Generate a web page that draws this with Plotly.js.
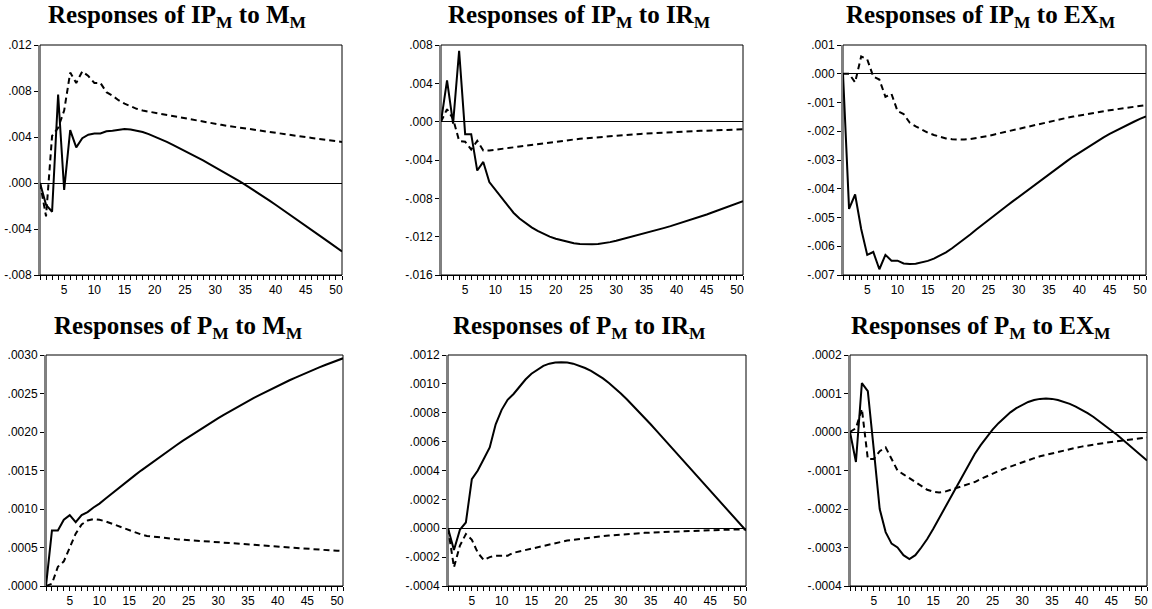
<!DOCTYPE html>
<html>
<head>
<meta charset="utf-8">
<script src="https://cdn.plot.ly/plotly-3.0.1.min.js"></script>
<style>html,body{margin:0;padding:0;background:#fff;}#chart{width:1152px;height:609px;}</style>
</head>
<body>
<div id="chart"></div>
<script>
// ---- data ----
const periods = [1,2,3,4,5,6,7,8,9,10,11,12,13,14,15,16,17,18,19,20,21,22,23,24,25,26,27,28,29,30,31,32,33,34,35,36,37,38,39,40,41,42,43,44,45,46,47,48,49,50,51];

const titles = [
  "Responses of IP<sub>M</sub> to M<sub>M</sub>",
  "Responses of IP<sub>M</sub> to IR<sub>M</sub>",
  "Responses of IP<sub>M</sub> to EX<sub>M</sub>",
  "Responses of P<sub>M</sub> to M<sub>M</sub>",
  "Responses of P<sub>M</sub> to IR<sub>M</sub>",
  "Responses of P<sub>M</sub> to EX<sub>M</sub>"
];

const ipM_M_solid = [0,-0.0019,-0.0025,0.0077,-0.0006,0.0046,0.0031,0.0039,0.0042,0.0043,0.0043,0.0045,0.00455,0.00465,0.00470,0.00466,0.00457,0.00443,0.00425,0.00404,0.00381,0.00357,0.00332,0.00306,0.00279,0.00252,0.00224,0.00196,0.00167,0.00138,0.00108,0.00078,0.00047,0.00016,-0.00016,-0.00049,-0.00083,-0.00118,-0.00153,-0.00189,-0.00225,-0.00262,-0.00299,-0.00336,-0.00373,-0.00410,-0.00447,-0.00484,-0.00521,-0.00558,-0.00595];
const ipM_M_dash = [0,-0.0029,0.0041,0.0048,0.0063,0.0096,0.0087,0.0097,0.0093,0.0087,0.0087,0.0079,0.0076,0.0072,0.0069,0.00665,0.00645,0.0063,0.0062,0.0061,0.00600,0.00590,0.00580,0.00570,0.00560,0.00551,0.00542,0.00533,0.00524,0.00515,0.00506,0.00497,0.00489,0.00481,0.00473,0.00465,0.00457,0.00449,0.00441,0.00434,0.00427,0.00420,0.00413,0.00406,0.00399,0.00392,0.00385,0.00378,0.00371,0.00364,0.00357];

const ipM_IR_solid = [0,0.0043,-0.0002,0.0074,-0.0013,-0.0013,-0.0051,-0.0042,-0.0063,-0.0071,-0.0080,-0.0088,-0.0095,-0.01010,-0.01060,-0.01103,-0.01140,-0.01172,-0.01199,-0.01222,-0.01240,-0.01256,-0.01268,-0.01276,-0.01280,-0.01280,-0.01276,-0.01268,-0.01257,-0.01243,-0.01227,-0.01211,-0.01195,-0.01178,-0.01161,-0.01144,-0.01126,-0.01108,-0.01090,-0.01071,-0.01051,-0.01031,-0.01010,-0.00989,-0.00968,-0.00945,-0.00922,-0.00899,-0.00876,-0.00853,-0.00830];
const ipM_IR_dash = [0,0.0013,0.0003,-0.0020,-0.0021,-0.0029,-0.0020,-0.0030,-0.0030,-0.00294,-0.00286,-0.00277,-0.00268,-0.00259,-0.00250,-0.00241,-0.00232,-0.00223,-0.00215,-0.00207,-0.00200,-0.00193,-0.00186,-0.00179,-0.00173,-0.00167,-0.00161,-0.00156,-0.00151,-0.00146,-0.00141,-0.00136,-0.00132,-0.00128,-0.00124,-0.00120,-0.00116,-0.00113,-0.00110,-0.00107,-0.00104,-0.00101,-0.00098,-0.00096,-0.00094,-0.00091,-0.00089,-0.00086,-0.00083,-0.00081,-0.00079];

const ipM_EX_solid = [0,-0.0047,-0.0042,-0.0054,-0.0063,-0.0062,-0.0068,-0.0063,-0.0065,-0.0065,-0.00660,-0.00662,-0.00661,-0.00657,-0.00651,-0.00643,-0.00633,-0.00621,-0.00607,-0.00592,-0.00576,-0.00559,-0.00542,-0.00525,-0.00508,-0.00492,-0.00476,-0.00460,-0.00444,-0.00428,-0.00412,-0.00396,-0.00380,-0.00364,-0.00348,-0.00333,-0.00318,-0.00303,-0.00288,-0.00274,-0.00260,-0.00247,-0.00234,-0.00221,-0.00209,-0.00198,-0.00187,-0.00177,-0.00167,-0.00157,-0.00148];
const ipM_EX_dash = [0,0,-0.0003,0.0006,0.0005,-0.0001,-0.0002,-0.0008,-0.0007,-0.0013,-0.0014,-0.00170,-0.00183,-0.00195,-0.00205,-0.00213,-0.00220,-0.00225,-0.00228,-0.00229,-0.00229,-0.00227,-0.00224,-0.00220,-0.00216,-0.00211,-0.00206,-0.00201,-0.00196,-0.00191,-0.00186,-0.00181,-0.00176,-0.00171,-0.00166,-0.00161,-0.00157,-0.00153,-0.00149,-0.00145,-0.00141,-0.00137,-0.00133,-0.00130,-0.00127,-0.00124,-0.00121,-0.00118,-0.00115,-0.00112,-0.00109];

const pM_M_solid = [0,0.00072,0.00072,0.00086,0.00092,0.00083,0.00092,0.00096,0.00102,0.001070,0.001134,0.001197,0.001259,0.001320,0.001381,0.001440,0.001499,0.001556,0.001613,0.001669,0.001724,0.001778,0.001831,0.001884,0.001935,0.001986,0.002035,0.002084,0.002132,0.002179,0.002225,0.002270,0.002314,0.002358,0.002400,0.002442,0.002482,0.002522,0.002561,0.002599,0.002636,0.002672,0.002707,0.002742,0.002775,0.002808,0.002839,0.002870,0.002900,0.002929,0.002957];
const pM_M_dash = [0,0.00003,0.00025,0.00032,0.00050,0.00068,0.00080,0.00085,0.00087,0.00086,0.00084,0.00081,0.00078,0.00075,0.00072,0.00069,0.00067,0.00065,0.00064,0.000630,0.000622,0.000615,0.000608,0.000602,0.000596,0.000590,0.000584,0.000578,0.000572,0.000566,0.000560,0.000554,0.000548,0.000542,0.000536,0.000530,0.000524,0.000518,0.000512,0.000506,0.000500,0.000495,0.000490,0.000485,0.000480,0.000475,0.000470,0.000466,0.000462,0.000458,0.000454];

const pM_IR_solid = [0,-0.00015,-0.00001,0.00004,0.00034,0.00040,0.00048,0.00056,0.00072,0.00082,0.00089,0.00093,0.00098,0.00103,0.00107,0.00110,0.001125,0.00114,0.001148,0.00115,0.001148,0.00114,0.001127,0.00111,0.00109,0.001066,0.001038,0.001006,0.000971,0.000933,0.000893,0.000851,0.000808,0.000764,0.00072,0.000674,0.000628,0.000582,0.000536,0.00049,0.000444,0.000398,0.000352,0.000306,0.00026,0.000214,0.000168,0.000122,0.000076,0.00003,-0.000016];
const pM_IR_dash = [0,-0.00027,-0.00012,-0.00004,-0.00008,-0.00017,-0.00022,-0.00020,-0.00019,-0.00019,-0.00019,-0.00017,-0.00016,-0.00015,-0.00014,-0.00013,-0.00012,-0.00011,-0.00010,-0.00009,-0.000085,-0.00008,-0.000074,-0.000069,-0.000064,-0.00006,-0.000055,-0.000051,-0.000047,-0.000044,-0.000041,-0.000038,-0.000035,-0.000032,-0.00003,-0.000028,-0.000026,-0.000024,-0.000022,-0.00002,-0.000019,-0.000017,-0.000016,-0.000015,-0.000013,-0.000012,-0.000011,-0.00001,-0.000009,-0.000008,-0.000007];

const pM_EX_solid = [0,-0.000078,0.000127,0.000106,-0.000045,-0.00020,-0.00026,-0.00029,-0.00030,-0.00032,-0.00033,-0.00032,-0.00030,-0.000278,-0.000252,-0.000224,-0.000195,-0.000166,-0.000137,-0.000109,-0.000082,-0.000057,-0.000034,-0.000013,0.000006,0.000023,0.000038,0.000051,0.000062,0.000071,0.000078,0.000083,0.000086,0.000087,0.000086,0.000083,0.000079,0.000073,0.000066,0.000058,0.000049,0.000039,0.000028,0.000016,0.000004,-0.000008,-0.000021,-0.000034,-0.000047,-0.00006,-0.000074];
const pM_EX_dash = [0,0.00001,0.00006,-0.00007,-0.00007,-0.00005,-0.00004,-0.00007,-0.00010,-0.00011,-0.00012,-0.00013,-0.00014,-0.00015,-0.000155,-0.000157,-0.000155,-0.00015,-0.000147,-0.00014,-0.000135,-0.00013,-0.000122,-0.000115,-0.000108,-0.0001,-0.000095,-0.00009,-0.000084,-0.000078,-0.000073,-0.000068,-0.000063,-0.000059,-0.000055,-0.000051,-0.000047,-0.000044,-0.000041,-0.000038,-0.000035,-0.000033,-0.00003,-0.000028,-0.000026,-0.000024,-0.000022,-0.00002,-0.000018,-0.000016,-0.000014];

const solidSeries = [ipM_M_solid, ipM_IR_solid, ipM_EX_solid, pM_M_solid, pM_IR_solid, pM_EX_solid];
const dashSeries  = [ipM_M_dash,  ipM_IR_dash,  ipM_EX_dash,  pM_M_dash,  pM_IR_dash,  pM_EX_dash];

// y tick values and labels per panel
const yTickVals = [
  [-0.008,-0.004,0,0.004,0.008,0.012],
  [-0.016,-0.012,-0.008,-0.004,0,0.004,0.008],
  [-0.007,-0.006,-0.005,-0.004,-0.003,-0.002,-0.001,0,0.001],
  [0,0.0005,0.0010,0.0015,0.0020,0.0025,0.0030],
  [-0.0004,-0.0002,0,0.0002,0.0004,0.0006,0.0008,0.0010,0.0012],
  [-0.0004,-0.0003,-0.0002,-0.0001,0,0.0001,0.0002]
];
const yTickText = [
  ["-.008","-.004",".000",".004",".008",".012"],
  ["-.016","-.012","-.008","-.004",".000",".004",".008"],
  ["-.007","-.006","-.005","-.004","-.003","-.002","-.001",".000",".001"],
  [".0000",".0005",".0010",".0015",".0020",".0025",".0030"],
  ["-.0004","-.0002",".0000",".0002",".0004",".0006",".0008",".0010",".0012"],
  ["-.0004","-.0003","-.0002","-.0001",".0000",".0001",".0002"]
];

// ---- layout (pixels) ----
const W = 1152, H = 609;
const boxes = [
  {l:40,  r:342,  t:45,  b:275, tx:177},
  {l:441, r:743,  t:45,  b:275, tx:579},
  {l:843, r:1146, t:45,  b:275, tx:981},
  {l:46,  r:343,  t:355, b:586, tx:178},
  {l:448, r:746,  t:355, b:586, tx:579},
  {l:850, r:1147, t:355, b:586, tx:981}
];
const titleY = [17,17,17,327,327,327];
const tickFont = {family: 'Liberation Sans, Arial, sans-serif', size: 12, color: '#000'};

const traces = [];
const layout = {
  width: W, height: H,
  margin: {l:0, r:0, t:0, b:0},
  paper_bgcolor: '#ffffff', plot_bgcolor: '#ffffff',
  showlegend: false,
  font: {family: 'Liberation Sans, Arial, sans-serif', size: 12, color: '#000'},
  shapes: [], annotations: []
};

boxes.forEach((bx, i) => {
  const n = i === 0 ? '' : String(i + 1);
  const xa = 'x' + n, ya = 'y' + n;
  traces.push({x: periods, y: solidSeries[i], xaxis: xa, yaxis: ya, type: 'scatter', mode: 'lines',
    line: {color: '#000', width: 2}, hoverinfo: 'skip'});
  traces.push({x: periods, y: dashSeries[i], xaxis: xa, yaxis: ya, type: 'scatter', mode: 'lines',
    line: {color: '#000', width: 2, dash: '6px,4px'}, hoverinfo: 'skip'});
  const tv = yTickVals[i];
  layout['xaxis' + n] = {
    domain: [bx.l / W, bx.r / W], anchor: ya, range: [1, 51],
    tickmode: 'linear', tick0: 0, dtick: 5, ticks: 'outside', ticklen: 4, tickwidth: 1, tickcolor: '#000',
    minor: {dtick: 1, tick0: 0, ticks: 'outside', ticklen: 4, tickwidth: 1, tickcolor: '#000', showgrid: false},
    showgrid: false, zeroline: false, showline: true, linecolor: '#000', linewidth: 1,
    tickfont: tickFont, fixedrange: true
  };
  layout['yaxis' + n] = {
    domain: [1 - bx.b / H, 1 - bx.t / H], anchor: xa, range: [tv[0], tv[tv.length - 1]],
    tickmode: 'array', tickvals: tv, ticktext: yTickText[i],
    ticks: 'outside', ticklen: 4, tickwidth: 1, tickcolor: '#000',
    showgrid: false, zeroline: true, zerolinecolor: '#000', zerolinewidth: 1,
    showline: true, linecolor: '#808080', linewidth: 2,
    tickfont: tickFont, fixedrange: true
  };
  layout.shapes.push({type: 'rect', xref: xa + ' domain', yref: ya + ' domain', x0: 0, x1: 1, y0: 0, y1: 1,
    line: {color: '#000', width: 1}, fillcolor: 'rgba(0,0,0,0)', layer: 'below'});
  layout.annotations.push({text: '<b>' + titles[i] + '</b>', xref: 'paper', yref: 'paper',
    x: bx.tx / W, y: 1 - titleY[i] / H, xanchor: 'center', yanchor: 'middle', showarrow: false,
    font: {family: 'Liberation Serif, Times New Roman, serif', size: 25, color: '#000'}});
});

Plotly.newPlot('chart', traces, layout, {displayModeBar: false, staticPlot: true});
</script>
</body>
</html>
